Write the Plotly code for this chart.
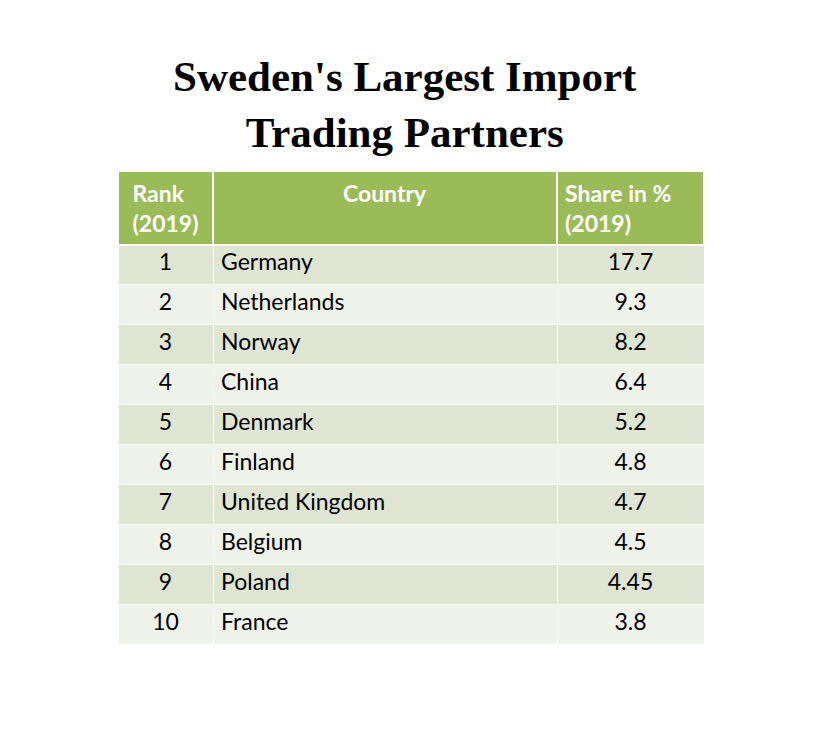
import plotly.graph_objects as go

title_lines = ["Sweden's Largest Import", "Trading Partners"]
header_labels = ["Rank<br>(2019)", "Country", "Share in %<br>(2019)"]
ranks = [1, 2, 3, 4, 5, 6, 7, 8, 9, 10]
countries = ["Germany", "Netherlands", "Norway", "China", "Denmark",
             "Finland", "United Kingdom", "Belgium", "Poland", "France"]
shares = ["17.7", "9.3", "8.2", "6.4", "5.2", "4.8", "4.7", "4.5", "4.45", "3.8"]

W, H = 832, 730
OFF = 9  # page offset compensation
x0, x1 = 119 - OFF, 705 - OFF
col_w = [95, 344, 147]
HEADER_GREEN = "#9BBB59"
ROW_A = "#DEE6D3"
ROW_B = "#EEF2E8"
FONT = "Lato"
FS = 23

def ydom(top, bottom):
    return [1 - (bottom - OFF) / H, 1 - (top - OFF) / H]

row_colors = [ROW_A if i % 2 == 0 else ROW_B for i in range(len(ranks))]

fig = go.Figure()

fig.add_trace(go.Table(
    domain=dict(x=[x0 / W, x1 / W], y=ydom(172, 650)),
    columnwidth=col_w,
    header=dict(
        values=[f"<b>{h}</b>" for h in header_labels],
        fill_color=HEADER_GREEN,
        line=dict(color="white", width=2),
        align=["center", "center", "left"],
        font=dict(family=FONT, size=FS, color="white"),
        height=67,
    ),
    cells=dict(
        values=[ranks, countries, shares],
        fill_color=[row_colors, row_colors, row_colors],
        line=dict(color="white", width=1),
        align=["center", "left", "center"],
        font=dict(family=FONT, size=FS, color="black"),
        height=40,
    ),
))

fig.add_annotation(
    text="<b>" + "<br>".join(title_lines) + "</b>",
    x=(406 - OFF) / W, y=1 - (52 - OFF) / H, xref="paper", yref="paper",
    xanchor="center", yanchor="top", showarrow=False,
    font=dict(family="Liberation Serif", size=43, color="black"),
)

fig.update_layout(
    width=W, height=H,
    margin=dict(l=0, r=0, t=0, b=0),
    paper_bgcolor="white", plot_bgcolor="white",
)

fig.write_html("out.html")
